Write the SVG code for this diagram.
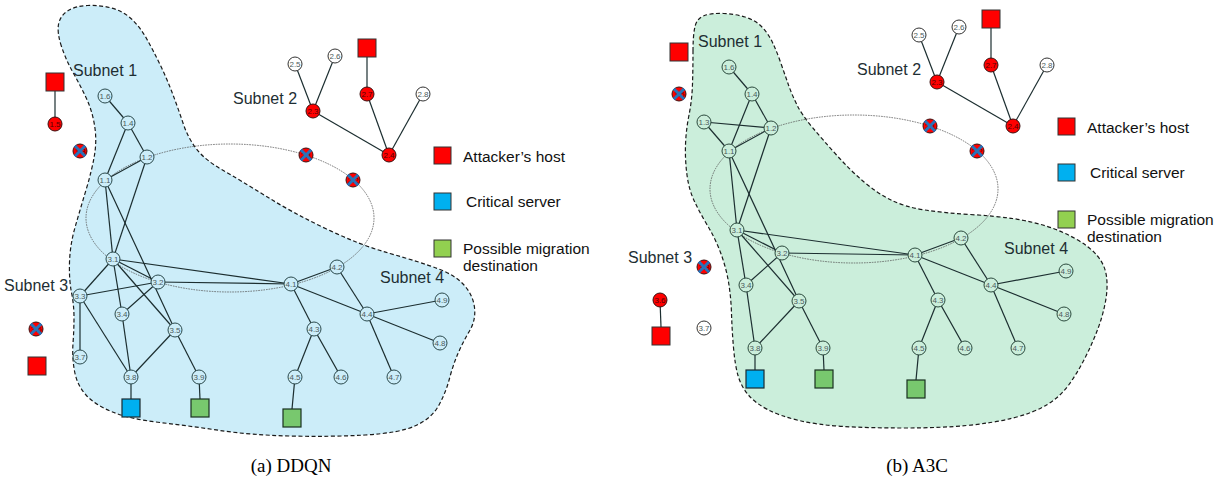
<svg xmlns="http://www.w3.org/2000/svg" xmlns:xlink="http://www.w3.org/1999/xlink" width="1220" height="482" viewBox="0 0 1220 482">
<style>
.blob{stroke:#1a1a1a;stroke-width:1.2;stroke-dasharray:4 2.5}
.ell{fill:none;stroke:#555;stroke-width:0.8;stroke-dasharray:1.6 1}
.e{stroke:#1c2e30;stroke-width:1.2;fill:none}
.nb{fill:#ccedf9;stroke:#2b4a4d;stroke-width:1}
.ng{fill:#cbeedb;stroke:#2b4a3d;stroke-width:1}
.nw{fill:#fff;stroke:#333;stroke-width:1}
.nr{fill:#ff0000;stroke:#3a1010;stroke-width:1}
.lb{font-family:"Liberation Sans",Arial,sans-serif;font-size:8px;fill:#4b5b5d;text-anchor:middle}
.lr{font-family:"Liberation Sans",Arial,sans-serif;font-size:8px;fill:#550000;text-anchor:middle}
.sub{font-family:"Liberation Sans",Arial,sans-serif;font-size:16px;fill:#1e2e33}
.leg{font-family:"Liberation Sans",Arial,sans-serif;font-size:15.5px;fill:#111}
.cap{font-family:"Liberation Serif","Times New Roman",serif;font-size:19px;fill:#000;text-anchor:middle}
.sqr{fill:#ff0000;stroke:#333;stroke-width:1}
.sqb{fill:#00b0f0;stroke:#1a2a30;stroke-width:1.2}
.sqg{fill:#78c86e;stroke:#1a3020;stroke-width:1.2}
.lgb{fill:#00b0f0;stroke:#333;stroke-width:1}
.lgg{fill:#92d050;stroke:#333;stroke-width:1}
.xm{stroke:#2a72b8;stroke-width:3;stroke-linecap:butt}
</style>
<defs>
<g id="xmark"><line class="xm" x1="-5.2" y1="-5.2" x2="5.2" y2="5.2"/><line class="xm" x1="-5.2" y1="5.2" x2="5.2" y2="-5.2"/></g>
</defs>

<g id="panel-a-subnet-area">
<path class="blob" fill="#ccedf9" d="M61.5,46.5 Q57,33 58.5,24.5 Q60,16 67.5,11 Q75,6 87.5,5.5 Q100,5 111.5,8 Q123,11 131.5,19 Q140,27 146.5,38.5 Q153,50 160,64.5 Q167,79 172.5,93.5 Q178,108 183,123 Q188,138 196.5,149 Q205,160 222.5,170 Q240,180 266.5,196.5 Q293,213 326.5,229 Q360,245 390,253.5 Q420,262 437.5,268.5 Q455,275 464,285 Q473,295 474.5,307.5 Q476,320 469.5,331 Q463,342 458,353.5 Q453,365 449.5,378.5 Q446,392 439,405 Q432,418 416,425.5 Q400,433 365,435 Q330,437 290,436 Q250,435 220,430.5 Q190,426 160,422.5 Q130,419 112.5,412 Q95,405 86,395 Q77,385 74.5,371 Q72,357 73,343.5 Q74,330 74,317.5 Q74,305 71.5,292.5 Q69,280 69.5,262.5 Q70,245 75,227.5 Q80,210 86,190 Q92,170 94.5,155 Q97,140 94.5,125 Q92,110 86,97.5 Q80,85 73,72.5 Q66,60 61.5,46.5 Z"/>
<ellipse class="ell" cx="230" cy="218" rx="144" ry="74"/>
</g>

<g id="panel-b-subnet-area">
<path class="blob" fill="#cbeedb" d="M693,51.5 Q693,35 695,26.5 Q697,18 704.5,15.5 Q712,13 723.5,13.5 Q735,14 745,17 Q755,20 761.5,26.5 Q768,33 772.5,42.5 Q777,52 781,63.5 Q785,75 788.5,85 Q792,95 797,105 Q802,115 812.5,127.5 Q823,140 836.5,155 Q850,170 863.5,181.5 Q877,193 891,200 Q905,207 925,210 Q945,213 970,214.5 Q995,216 1012.5,218.5 Q1030,221 1046,226 Q1062,231 1076,239 Q1090,247 1097.5,256 Q1105,265 1106.5,276.5 Q1108,288 1105.5,301.5 Q1103,315 1098,328.5 Q1093,342 1085.5,357 Q1078,372 1069,384.5 Q1060,397 1046.5,405 Q1033,413 1013,418 Q993,423 966.5,425.5 Q940,428 905,428 Q870,428 844,426.5 Q818,425 799,420.5 Q780,416 767.5,409.5 Q755,403 748,394.5 Q741,386 738,375.5 Q735,365 733.5,347.5 Q732,330 731.5,313.5 Q731,297 728.5,282 Q726,267 720.5,252.5 Q715,238 707.5,225.5 Q700,213 694.5,201.5 Q689,190 687,175 Q685,160 685.5,145 Q686,130 689,115 Q692,100 692.5,84 Q693,68 693,51.5 Z"/>
<ellipse class="ell" cx="854" cy="189" rx="144" ry="74"/>
</g>

<g id="connectors">
<line class="e" x1="105" y1="96" x2="128" y2="123"/>
<line class="e" x1="128" y1="123" x2="147" y2="157"/>
<line class="e" x1="128" y1="123" x2="105" y2="180"/>
<line class="e" x1="105" y1="180" x2="147" y2="157"/>
<line class="e" x1="105" y1="180" x2="113" y2="259"/>
<line class="e" x1="147" y1="157" x2="113" y2="259"/>
<line class="e" x1="105" y1="180" x2="175" y2="330"/>
<line class="e" x1="113" y1="259" x2="158" y2="282"/>
<line class="e" x1="113" y1="259" x2="80" y2="296"/>
<line class="e" x1="113" y1="259" x2="122" y2="314"/>
<line class="e" x1="113" y1="259" x2="175" y2="330"/>
<line class="e" x1="113" y1="259" x2="291" y2="284"/>
<line class="e" x1="158" y1="282" x2="80" y2="296"/>
<line class="e" x1="158" y1="282" x2="122" y2="314"/>
<line class="e" x1="158" y1="282" x2="291" y2="284"/>
<line class="e" x1="80" y1="296" x2="80" y2="357"/>
<line class="e" x1="80" y1="296" x2="131" y2="377"/>
<line class="e" x1="122" y1="314" x2="131" y2="377"/>
<line class="e" x1="175" y1="330" x2="131" y2="377"/>
<line class="e" x1="175" y1="330" x2="199" y2="377"/>
<line class="e" x1="131" y1="377" x2="131" y2="399"/>
<line class="e" x1="199" y1="377" x2="200" y2="399"/>
<line class="e" x1="291" y1="284" x2="337" y2="267"/>
<line class="e" x1="291" y1="284" x2="367" y2="314"/>
<line class="e" x1="291" y1="284" x2="314" y2="329"/>
<line class="e" x1="337" y1="267" x2="367" y2="314"/>
<line class="e" x1="367" y1="314" x2="442" y2="300"/>
<line class="e" x1="367" y1="314" x2="440" y2="343"/>
<line class="e" x1="367" y1="314" x2="394" y2="377"/>
<line class="e" x1="314" y1="329" x2="295" y2="377"/>
<line class="e" x1="314" y1="329" x2="341" y2="377"/>
<line class="e" x1="295" y1="377" x2="292" y2="409"/>
<line class="e" x1="295" y1="64" x2="313" y2="111"/>
<line class="e" x1="335" y1="56" x2="313" y2="111"/>
<line class="e" x1="313" y1="111" x2="389" y2="155"/>
<line class="e" x1="367" y1="94" x2="389" y2="155"/>
<line class="e" x1="423" y1="94" x2="389" y2="155"/>
<line class="e" x1="367" y1="94" x2="367" y2="56"/>
<line class="e" x1="55" y1="124" x2="55" y2="90"/>
<line class="e" x1="729" y1="67" x2="752" y2="94"/>
<line class="e" x1="752" y1="94" x2="771" y2="128"/>
<line class="e" x1="752" y1="94" x2="729" y2="151"/>
<line class="e" x1="704" y1="122" x2="771" y2="128"/>
<line class="e" x1="704" y1="122" x2="729" y2="151"/>
<line class="e" x1="729" y1="151" x2="771" y2="128"/>
<line class="e" x1="729" y1="151" x2="737" y2="230"/>
<line class="e" x1="771" y1="128" x2="737" y2="230"/>
<line class="e" x1="729" y1="151" x2="799" y2="301"/>
<line class="e" x1="737" y1="230" x2="782" y2="253"/>
<line class="e" x1="737" y1="230" x2="746" y2="285"/>
<line class="e" x1="737" y1="230" x2="799" y2="301"/>
<line class="e" x1="737" y1="230" x2="915" y2="255"/>
<line class="e" x1="782" y1="253" x2="746" y2="285"/>
<line class="e" x1="782" y1="253" x2="915" y2="255"/>
<line class="e" x1="746" y1="285" x2="755" y2="348"/>
<line class="e" x1="799" y1="301" x2="755" y2="348"/>
<line class="e" x1="799" y1="301" x2="823" y2="348"/>
<line class="e" x1="755" y1="348" x2="755" y2="370"/>
<line class="e" x1="823" y1="348" x2="824" y2="370"/>
<line class="e" x1="915" y1="255" x2="961" y2="238"/>
<line class="e" x1="915" y1="255" x2="991" y2="285"/>
<line class="e" x1="915" y1="255" x2="938" y2="300"/>
<line class="e" x1="961" y1="238" x2="991" y2="285"/>
<line class="e" x1="991" y1="285" x2="1066" y2="271"/>
<line class="e" x1="991" y1="285" x2="1064" y2="314"/>
<line class="e" x1="991" y1="285" x2="1018" y2="348"/>
<line class="e" x1="938" y1="300" x2="919" y2="348"/>
<line class="e" x1="938" y1="300" x2="965" y2="348"/>
<line class="e" x1="919" y1="348" x2="916" y2="380"/>
<line class="e" x1="919" y1="35" x2="937" y2="82"/>
<line class="e" x1="959" y1="27" x2="937" y2="82"/>
<line class="e" x1="937" y1="82" x2="1013" y2="126"/>
<line class="e" x1="991" y1="65" x2="1013" y2="126"/>
<line class="e" x1="1047" y1="65" x2="1013" y2="126"/>
<line class="e" x1="991" y1="65" x2="991" y2="28"/>
<line class="e" x1="660" y1="300" x2="661" y2="327"/>
</g>

<g id="a-n1.6"><circle class="nb" cx="105" cy="96" r="7"/><text class="lb" x="105" y="98.8">1.6</text></g>
<g id="a-n1.4"><circle class="nb" cx="128" cy="123" r="7"/><text class="lb" x="128" y="125.8">1.4</text></g>
<g id="a-n1.2"><circle class="nb" cx="147" cy="157" r="7"/><text class="lb" x="147" y="159.8">1.2</text></g>
<g id="a-n1.1"><circle class="nb" cx="105" cy="180" r="7"/><text class="lb" x="105" y="182.8">1.1</text></g>
<g id="a-n1.5"><circle class="nr" cx="55" cy="124" r="7"/><text class="lr" x="55" y="126.8">1.5</text></g>
<g id="a-n1.3"><circle class="nr" cx="80" cy="151" r="7"/><text class="lr" x="80" y="153.8">1.3</text><use xlink:href="#xmark" x="80" y="151"/></g>
<g id="a-att1"><rect class="sqr" x="46" y="73" width="18" height="18"/></g>

<g id="a-n2.5"><circle class="nw" cx="295" cy="64" r="7"/><text class="lb" x="295" y="66.8">2.5</text></g>
<g id="a-n2.6"><circle class="nw" cx="335" cy="56" r="7"/><text class="lb" x="335" y="58.8">2.6</text></g>
<g id="a-n2.7"><circle class="nr" cx="367" cy="94" r="7"/><text class="lr" x="367" y="96.8">2.7</text></g>
<g id="a-n2.8"><circle class="nw" cx="423" cy="94" r="7"/><text class="lb" x="423" y="96.8">2.8</text></g>
<g id="a-n2.3"><circle class="nr" cx="313" cy="111" r="7"/><text class="lr" x="313" y="113.8">2.3</text></g>
<g id="a-n2.4"><circle class="nr" cx="389" cy="155" r="7"/><text class="lr" x="389" y="157.8">2.4</text></g>
<g id="a-n2.1"><circle class="nr" cx="306" cy="155" r="7"/><text class="lr" x="306" y="157.8">2.1</text><use xlink:href="#xmark" x="306" y="155"/></g>
<g id="a-n2.2"><circle class="nr" cx="353" cy="180" r="7"/><text class="lr" x="353" y="182.8">2.2</text><use xlink:href="#xmark" x="353" y="180"/></g>
<g id="a-att2"><rect class="sqr" x="358" y="39" width="18" height="18"/></g>

<g id="a-n3.1"><circle class="nb" cx="113" cy="259" r="7"/><text class="lb" x="113" y="261.8">3.1</text></g>
<g id="a-n3.2"><circle class="nb" cx="158" cy="282" r="7"/><text class="lb" x="158" y="284.8">3.2</text></g>
<g id="a-n3.3"><circle class="nb" cx="80" cy="296" r="7"/><text class="lb" x="80" y="298.8">3.3</text></g>
<g id="a-n3.4"><circle class="nb" cx="122" cy="314" r="7"/><text class="lb" x="122" y="316.8">3.4</text></g>
<g id="a-n3.5"><circle class="nb" cx="175" cy="330" r="7"/><text class="lb" x="175" y="332.8">3.5</text></g>
<g id="a-n3.7"><circle class="nb" cx="80" cy="357" r="7"/><text class="lb" x="80" y="359.8">3.7</text></g>
<g id="a-n3.8"><circle class="nb" cx="131" cy="377" r="7"/><text class="lb" x="131" y="379.8">3.8</text></g>
<g id="a-n3.9"><circle class="nb" cx="199" cy="377" r="7"/><text class="lb" x="199" y="379.8">3.9</text></g>
<g id="a-n3.6"><circle class="nr" cx="36" cy="329" r="7"/><text class="lr" x="36" y="331.8">3.6</text><use xlink:href="#xmark" x="36" y="329"/></g>
<g id="a-att3"><rect class="sqr" x="28" y="357" width="18" height="18"/></g>
<g id="a-crit"><rect class="sqb" x="122" y="399" width="18" height="18"/></g>
<g id="a-mig1"><rect class="sqg" x="191" y="399" width="18" height="18"/></g>

<g id="a-n4.1"><circle class="nb" cx="291" cy="284" r="7"/><text class="lb" x="291" y="286.8">4.1</text></g>
<g id="a-n4.2"><circle class="nb" cx="337" cy="267" r="7"/><text class="lb" x="337" y="269.8">4.2</text></g>
<g id="a-n4.4"><circle class="nb" cx="367" cy="314" r="7"/><text class="lb" x="367" y="316.8">4.4</text></g>
<g id="a-n4.3"><circle class="nb" cx="314" cy="329" r="7"/><text class="lb" x="314" y="331.8">4.3</text></g>
<g id="a-n4.9"><circle class="nb" cx="442" cy="300" r="7"/><text class="lb" x="442" y="302.8">4.9</text></g>
<g id="a-n4.8"><circle class="nb" cx="440" cy="343" r="7"/><text class="lb" x="440" y="345.8">4.8</text></g>
<g id="a-n4.5"><circle class="nb" cx="295" cy="377" r="7"/><text class="lb" x="295" y="379.8">4.5</text></g>
<g id="a-n4.6"><circle class="nb" cx="341" cy="377" r="7"/><text class="lb" x="341" y="379.8">4.6</text></g>
<g id="a-n4.7"><circle class="nb" cx="394" cy="377" r="7"/><text class="lb" x="394" y="379.8">4.7</text></g>
<g id="a-mig2"><rect class="sqg" x="283" y="409" width="18" height="18"/></g>

<g id="a-labels">
<text class="sub" x="73" y="76">Subnet 1</text>
<text class="sub" x="233" y="104">Subnet 2</text>
<text class="sub" x="4" y="291">Subnet 3</text>
<text class="sub" x="380" y="283">Subnet 4</text>
</g>
<g id="a-legend">
<rect class="sqr" x="434" y="147" width="17" height="17"/>
<text class="leg" x="463" y="162">Attacker’s host</text>
<rect class="lgb" x="434" y="193" width="17" height="17"/>
<text class="leg" x="466" y="207">Critical server</text>
<rect class="lgg" x="434" y="240" width="17" height="17"/>
<text class="leg" x="463" y="254">Possible migration</text>
<text class="leg" x="463" y="271">destination</text>
</g>
<text class="cap" x="291" y="472">(a) DDQN</text>

<g id="b-n1.6"><circle class="ng" cx="729" cy="67" r="7"/><text class="lb" x="729" y="69.8">1.6</text></g>
<g id="b-n1.4"><circle class="ng" cx="752" cy="94" r="7"/><text class="lb" x="752" y="96.8">1.4</text></g>
<g id="b-n1.2"><circle class="ng" cx="771" cy="128" r="7"/><text class="lb" x="771" y="130.8">1.2</text></g>
<g id="b-n1.1"><circle class="ng" cx="729" cy="151" r="7"/><text class="lb" x="729" y="153.8">1.1</text></g>
<g id="b-n1.3"><circle class="ng" cx="704" cy="122" r="7"/><text class="lb" x="704" y="124.8">1.3</text></g>
<g id="b-n1.5"><circle class="nr" cx="679" cy="94" r="7"/><text class="lr" x="679" y="96.8">1.5</text><use xlink:href="#xmark" x="679" y="94"/></g>
<g id="b-att1"><rect class="sqr" x="670" y="43" width="18" height="18"/></g>

<g id="b-n2.5"><circle class="nw" cx="919" cy="35" r="7"/><text class="lb" x="919" y="37.8">2.5</text></g>
<g id="b-n2.6"><circle class="nw" cx="959" cy="27" r="7"/><text class="lb" x="959" y="29.8">2.6</text></g>
<g id="b-n2.7"><circle class="nr" cx="991" cy="65" r="7"/><text class="lr" x="991" y="67.8">2.7</text></g>
<g id="b-n2.8"><circle class="nw" cx="1047" cy="65" r="7"/><text class="lb" x="1047" y="67.8">2.8</text></g>
<g id="b-n2.3"><circle class="nr" cx="937" cy="82" r="7"/><text class="lr" x="937" y="84.8">2.3</text></g>
<g id="b-n2.4"><circle class="nr" cx="1013" cy="126" r="7"/><text class="lr" x="1013" y="128.8">2.4</text></g>
<g id="b-n2.1"><circle class="nr" cx="930" cy="126" r="7"/><text class="lr" x="930" y="128.8">2.1</text><use xlink:href="#xmark" x="930" y="126"/></g>
<g id="b-n2.2"><circle class="nr" cx="977" cy="151" r="7"/><text class="lr" x="977" y="153.8">2.2</text><use xlink:href="#xmark" x="977" y="151"/></g>
<g id="b-att2"><rect class="sqr" x="982" y="10" width="18" height="18"/></g>

<g id="b-n3.1"><circle class="ng" cx="737" cy="230" r="7"/><text class="lb" x="737" y="232.8">3.1</text></g>
<g id="b-n3.2"><circle class="ng" cx="782" cy="253" r="7"/><text class="lb" x="782" y="255.8">3.2</text></g>
<g id="b-n3.3"><circle class="nr" cx="704" cy="267" r="7"/><text class="lr" x="704" y="269.8">3.3</text><use xlink:href="#xmark" x="704" y="267"/></g>
<g id="b-n3.4"><circle class="ng" cx="746" cy="285" r="7"/><text class="lb" x="746" y="287.8">3.4</text></g>
<g id="b-n3.5"><circle class="ng" cx="799" cy="301" r="7"/><text class="lb" x="799" y="303.8">3.5</text></g>
<g id="b-n3.6"><circle class="nr" cx="660" cy="300" r="7"/><text class="lr" x="660" y="302.8">3.6</text></g>
<g id="b-n3.7"><circle class="nw" cx="704" cy="328" r="7"/><text class="lb" x="704" y="330.8">3.7</text></g>
<g id="b-n3.8"><circle class="ng" cx="755" cy="348" r="7"/><text class="lb" x="755" y="350.8">3.8</text></g>
<g id="b-n3.9"><circle class="ng" cx="823" cy="348" r="7"/><text class="lb" x="823" y="350.8">3.9</text></g>
<g id="b-att3"><rect class="sqr" x="652" y="327" width="18" height="18"/></g>
<g id="b-crit"><rect class="sqb" x="746" y="370" width="18" height="18"/></g>
<g id="b-mig1"><rect class="sqg" x="815" y="370" width="18" height="18"/></g>

<g id="b-n4.1"><circle class="ng" cx="915" cy="255" r="7"/><text class="lb" x="915" y="257.8">4.1</text></g>
<g id="b-n4.2"><circle class="ng" cx="961" cy="238" r="7"/><text class="lb" x="961" y="240.8">4.2</text></g>
<g id="b-n4.4"><circle class="ng" cx="991" cy="285" r="7"/><text class="lb" x="991" y="287.8">4.4</text></g>
<g id="b-n4.3"><circle class="ng" cx="938" cy="300" r="7"/><text class="lb" x="938" y="302.8">4.3</text></g>
<g id="b-n4.9"><circle class="ng" cx="1066" cy="271" r="7"/><text class="lb" x="1066" y="273.8">4.9</text></g>
<g id="b-n4.8"><circle class="ng" cx="1064" cy="314" r="7"/><text class="lb" x="1064" y="316.8">4.8</text></g>
<g id="b-n4.5"><circle class="ng" cx="919" cy="348" r="7"/><text class="lb" x="919" y="350.8">4.5</text></g>
<g id="b-n4.6"><circle class="ng" cx="965" cy="348" r="7"/><text class="lb" x="965" y="350.8">4.6</text></g>
<g id="b-n4.7"><circle class="ng" cx="1018" cy="348" r="7"/><text class="lb" x="1018" y="350.8">4.7</text></g>
<g id="b-mig2"><rect class="sqg" x="907" y="380" width="18" height="18"/></g>

<g id="b-labels">
<text class="sub" x="698" y="47">Subnet 1</text>
<text class="sub" x="857" y="75">Subnet 2</text>
<text class="sub" x="628" y="263">Subnet 3</text>
<text class="sub" x="1004" y="254">Subnet 4</text>
</g>
<g id="b-legend">
<rect class="sqr" x="1058" y="118" width="17" height="17"/>
<text class="leg" x="1087" y="133">Attacker’s host</text>
<rect class="lgb" x="1058" y="164" width="17" height="17"/>
<text class="leg" x="1090" y="178">Critical server</text>
<rect class="lgg" x="1058" y="211" width="17" height="17"/>
<text class="leg" x="1087" y="225">Possible migration</text>
<text class="leg" x="1087" y="242">destination</text>
</g>
<text class="cap" x="917" y="472">(b) A3C</text>
</svg>
